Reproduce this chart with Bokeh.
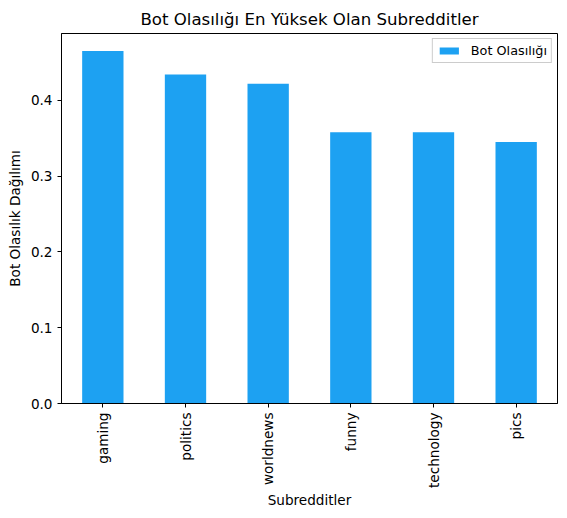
from bokeh.plotting import figure
from bokeh.models import Range1d, FactorRange, FixedTicker, NumeralTickFormatter, Legend, LegendItem, ColumnDataSource
from bokeh.embed import file_html
from bokeh.resources import INLINE
import math

subreddits = ["gaming", "politics", "worldnews", "funny", "technology", "pics"]
bot_prob = [0.465, 0.434, 0.422, 0.358, 0.358, 0.345]
y_ticks = [0.0, 0.1, 0.2, 0.3, 0.4]

FONT = "DejaVu Sans"
src = ColumnDataSource(dict(x=subreddits, y=bot_prob))

p = figure(width=567, height=518, output_backend="svg", toolbar_location=None,
           x_range=FactorRange(*subreddits, range_padding=0),
           y_range=Range1d(0, max(bot_prob) * 1.05),
           min_border_left=61, min_border_right=10, min_border_top=33, min_border_bottom=115)
r = p.vbar(x="x", top="y", width=0.5, source=src, color="#1DA1F2", line_color=None)

p.title.text = "Bot Olasılığı En Yüksek Olan Subredditler"
p.title.align = "center"
p.title.text_font = FONT
p.title.text_font_size = "16.6px"
p.title.text_font_style = "normal"
p.title.text_color = "black"

p.xgrid.visible = False
p.ygrid.visible = False
p.outline_line_color = "black"
p.outline_line_alpha = 1
p.outline_line_width = 1

for ax in (p.xaxis[0], p.yaxis[0]):
    ax.major_label_text_font = FONT
    ax.major_label_text_font_size = "13.6px"
    ax.major_label_text_color = "black"
    ax.axis_label_text_font = FONT
    ax.axis_label_text_font_size = "13.6px"
    ax.axis_label_text_font_style = "normal"
    ax.axis_label_text_color = "black"
    ax.major_tick_out = 4
    ax.major_tick_in = 0
    ax.minor_tick_out = 0
    ax.minor_tick_in = 0
    ax.axis_line_color = "black"
    ax.major_tick_line_color = "black"

p.xaxis.axis_label = "Subredditler"
p.yaxis.axis_label = "Bot Olasılık Dağılımı"
p.xaxis.axis_label_standoff = 1
p.xaxis.major_label_orientation = math.pi / 2
p.yaxis.ticker = FixedTicker(ticks=y_ticks)
p.yaxis.formatter = NumeralTickFormatter(format="0.0")

legend = Legend(items=[LegendItem(label="Bot Olasılığı", renderers=[r])], location="top_right")
legend.label_text_font = FONT
legend.label_text_font_size = "12.8px"
legend.label_text_color = "black"
legend.glyph_width = 24
legend.glyph_height = 9
legend.label_height = 14
legend.border_line_color = "#cccccc"
legend.border_line_alpha = 1
legend.background_fill_alpha = 0.8
legend.padding = 4
legend.margin = 5
legend.spacing = 0
legend.label_standoff = 10
p.add_layout(legend)

open("out.html", "w").write(file_html(p, INLINE))
